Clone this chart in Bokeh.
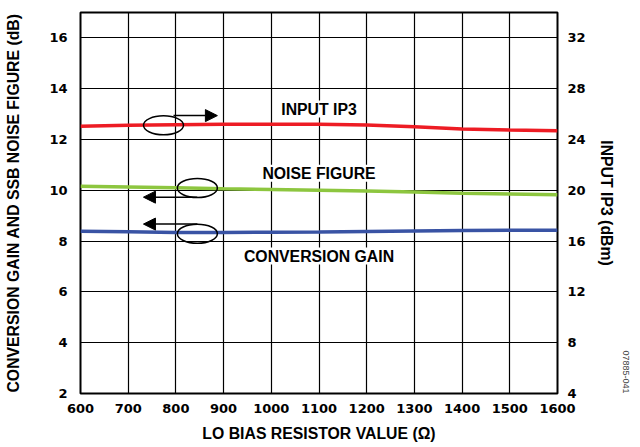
import math
from bokeh.plotting import figure
from bokeh.models import Range1d, LinearAxis, Label, Arrow, NormalHead, FixedTicker, Title
from bokeh.embed import file_html
from bokeh.resources import INLINE

# ---- data ----
resistor = [600, 700, 800, 900, 1000, 1100, 1200, 1300, 1400, 1500, 1600]
input_ip3 = [25.05, 25.12, 25.17, 25.2, 25.2, 25.2, 25.15, 25.0, 24.82, 24.74, 24.68]
noise_figure = [10.16, 10.13, 10.10, 10.06, 10.03, 10.00, 9.97, 9.93, 9.88, 9.85, 9.82]
conv_gain = [8.39, 8.37, 8.34, 8.34, 8.35, 8.36, 8.38, 8.40, 8.42, 8.43, 8.43]

x_ticks = [600, 700, 800, 900, 1000, 1100, 1200, 1300, 1400, 1500, 1600]
left_ticks = [2, 4, 6, 8, 10, 12, 14, 16]
right_ticks = [4, 8, 12, 16, 20, 24, 28, 32]

# annotation positions (data units, left axis)
ell_x = [774, 845, 845]
ell_y = [12.56, 10.09, 8.29]
arrow_start_x = [795, 845, 845]
arrow_end_x = [887, 732, 732]
arrow_y = [12.94, 9.73, 8.67]
label_text = ["INPUT IP3", "NOISE FIGURE", "CONVERSION GAIN"]
label_x = [1100, 1100, 1100]
label_y = [13.2, 10.67, 7.41]
figure_id = "07885-041"

FONT = "Liberation Sans"
TICK_FONT = "DejaVu Sans"
RED = "#ED1C24"
GREEN = "#8DC63F"
BLUE = "#3953A4"

p = figure(width=640, height=447, x_range=Range1d(600, 1600), y_range=Range1d(2, 17),
           output_backend="svg", toolbar_location=None,
           min_border_left=80, min_border_right=83, min_border_top=12, min_border_bottom=54)
p.extra_y_ranges = {"ip3": Range1d(4, 34)}
p.background_fill_color = "white"
p.border_fill_color = "white"
p.outline_line_color = "black"
p.outline_line_width = 2

# grid
p.xgrid.ticker = FixedTicker(ticks=x_ticks)
p.ygrid.ticker = FixedTicker(ticks=left_ticks)
for g in (p.xgrid, p.ygrid):
    g.grid_line_color = "black"
    g.grid_line_width = 1.2
    g.grid_line_alpha = 1.0

right_axis = LinearAxis(y_range_name="ip3")
p.add_layout(right_axis, "right")

p.xaxis.ticker = FixedTicker(ticks=x_ticks)
p.yaxis[0].ticker = FixedTicker(ticks=left_ticks)
right_axis.ticker = FixedTicker(ticks=right_ticks)

for ax in [p.xaxis[0], p.yaxis[0], right_axis]:
    ax.axis_line_color = None
    ax.major_tick_line_color = None
    ax.minor_tick_line_color = None
    ax.major_tick_out = 0
    ax.major_tick_in = 0
    ax.minor_tick_out = 0
    ax.minor_tick_in = 0
    ax.major_label_text_font = TICK_FONT
    ax.major_label_text_font_style = "bold"
    ax.major_label_text_font_size = "13px"
    ax.major_label_text_color = "black"
    ax.axis_label_text_font = FONT
    ax.axis_label_text_font_style = "bold"
    ax.axis_label_text_font_size = "15.8px"
    ax.axis_label_text_color = "black"

p.xaxis.axis_label = "LO BIAS RESISTOR VALUE (Ω)"
p.yaxis[0].axis_label = "CONVERSION GAIN AND SSB NOISE FIGURE (dB)"
right_axis.axis_label = "INPUT IP3 (dBm)"
p.xaxis.major_label_standoff = 10
p.xaxis.axis_label_standoff = 9
p.yaxis[0].major_label_standoff = 13
p.yaxis[0].axis_label_standoff = 24
right_axis.major_label_standoff = 10
right_axis.axis_label_standoff = 9

# lines
p.line(resistor, input_ip3, y_range_name="ip3", line_color=RED, line_width=3.5)
p.line(resistor, noise_figure, line_color=GREEN, line_width=3.5)
p.line(resistor, conv_gain, line_color=BLUE, line_width=3.5)

# ellipses
p.ellipse(x=ell_x, y=ell_y, width=40, height=19, width_units="screen", height_units="screen",
          fill_color=None, line_color="black", line_width=1.5)

# arrows
for xs, xe, ya in zip(arrow_start_x, arrow_end_x, arrow_y):
    p.add_layout(Arrow(x_start=xs, y_start=ya, x_end=xe, y_end=ya, line_color="black", line_width=1.5,
                       end=NormalHead(size=12, fill_color="black", line_color="black")))

# text labels
for t, lx, ly in zip(label_text, label_x, label_y):
    p.add_layout(Label(x=lx, y=ly, text=t, text_align="center", text_baseline="middle",
                       text_font=FONT, text_font_style="bold", text_font_size="15.8px",
                       text_color="black", background_fill_color="white"))

# figure id in the right margin
p.add_layout(Title(text=figure_id, align="right", text_font=FONT, text_font_style="normal",
                   text_font_size="9px", text_color="#444444"), "right")

open("out.html", "w").write(file_html(p, INLINE))
